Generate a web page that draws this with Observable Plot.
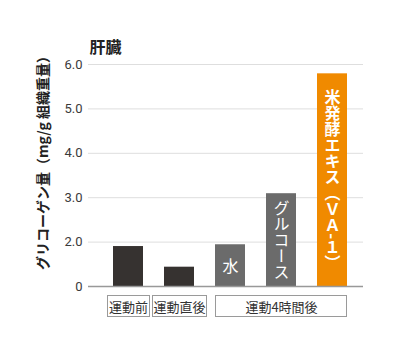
<!DOCTYPE html>
<html><head><meta charset="utf-8">
<script src="https://cdn.jsdelivr.net/npm/d3@7"></script>
<script src="https://cdn.jsdelivr.net/npm/@observablehq/plot@0.6"></script>
<style>
html,body{margin:0;padding:0;background:#fff;}
#chart{width:400px;height:354px;}
</style></head><body><div id="chart"></div>
<script>
// ---- data ----
const categories = ["運動前", "運動直後", "水", "グルコース", "米発酵エキス（ＶＡ-１）"];
const values = [1.80, 0.87, 1.88, 3.09, 5.79];
const barColors = ["#363230", "#363230", "#6b6b6b", "#6b6b6b", "#f08a00"];
const barLabels = ["", "", "水", "グルコース", "米発酵エキス（ＶＡ-１）"];
const barLabelWeights = ["normal", "normal", "normal", "normal", "bold"];
const groupNames = ["運動前", "運動直後", "運動4時間後"];
const groupMembers = [["運動前"], ["運動直後"], ["水", "グルコース", "米発酵エキス（ＶＡ-１）"]];
const yTicks = [0, 2, 3, 4, 5, 6];
const yTickLabels = ["0", "2.0", "3.0", "4.0", "5.0", "6.0"];
const titleText = "肝臓";
const yLabelText = "グリコーゲン量（mg/g 組織重量）";

// ---- layout ----
const W = 400, H = 354, mt = 64, mb = 68, ml = 88, mr = 37;
const jp = "'Noto Sans CJK JP', sans-serif";

// broken value axis: 0–2 occupies one tick step, then one step per unit
const disp = d3.scaleLinear().domain(yTicks).range(yTicks.map((_, i) => i));
const tickSteps = yTicks.map((_, i) => i);

const bars = categories.map((c, i) => ({cat: c, value: values[i], color: barColors[i]}));
const labels = categories.map((c, i) => ({
  cat: c, text: barLabels[i], weight: barLabelWeights[i], value: values[i]
})).filter(d => d.text);
const groups = groupNames.map((g, i) => ({
  name: g, members: groupMembers[i],
  center: groupMembers[i][Math.floor(groupMembers[i].length / 2)]
}));

const chart = Plot.plot({
  width: W, height: H,
  marginTop: mt, marginBottom: mb, marginLeft: ml, marginRight: mr,
  style: {fontFamily: "Roboto, 'Noto Sans CJK JP', sans-serif", fontSize: "13px", color: "#3a3a3a", background: "#fff"},
  x: {domain: categories, paddingInner: 0.41, paddingOuter: 0, insetLeft: 23, insetRight: 14, axis: null},
  y: {domain: [0, tickSteps[tickSteps.length - 1]], ticks: tickSteps,
      tickFormat: i => yTickLabels[i], tickSize: 0, tickPadding: 6, label: null},
  marks: [
    Plot.ruleY(tickSteps.slice(1), {stroke: "#dedede", strokeWidth: 1}),
    Plot.barY(bars, {x: "cat", y: d => disp(d.value), fill: "color"}),
    Plot.ruleY([0], {stroke: "#999", strokeWidth: 1.5}),
    ...labels.map(d => Plot.text([d], {
      x: "cat", y: e => disp(e.value) / 2, text: "text", fill: "#fff", fontSize: 16,
      fontWeight: d.weight, fontFamily: jp, textAnchor: "middle", lineAnchor: "middle"
    })),
    Plot.text(groups, {x: "center", text: "name", frameAnchor: "bottom", dy: 21,
      fontSize: 13, fill: "#333", fontFamily: jp, lineAnchor: "middle"}),
    Plot.text([titleText], {frameAnchor: "top-left", dx: 1, dy: -17, textAnchor: "start",
      lineAnchor: "middle", fontSize: 16, fontWeight: "bold", fill: "#222", fontFamily: jp}),
    Plot.text([yLabelText], {frameAnchor: "left", rotate: -90, dx: -45, dy: -16,
      textAnchor: "middle", lineAnchor: "middle", fontSize: 14, fontWeight: "bold", fill: "#222", fontFamily: jp})
  ]
});
document.getElementById("chart").appendChild(chart);

// vertical writing for in-bar labels
const svg = chart.tagName.toLowerCase() === "svg" ? chart : chart.querySelector("svg");
const labelSet = new Set(barLabels.filter(Boolean));
svg.querySelectorAll("text").forEach(t => {
  if (labelSet.has(t.textContent)) {
    t.style.writingMode = "vertical-rl";
    ["y", "dy"].forEach(a => { const v = t.getAttribute(a); if (v && /em$/.test(v)) t.removeAttribute(a); });
  }
});

// boxes around the group labels
const xs = chart.scale("x");
const bw = xs.bandwidth;
const svgRect = svg.getBoundingClientRect();
groups.forEach(g => {
  const t = Array.from(svg.querySelectorAll("text")).find(e => e.textContent === g.name);
  if (!t) return;
  const r = t.getBoundingClientRect();
  const tl = r.left - svgRect.left, tr = r.right - svgRect.left;
  const cy = (r.top + r.bottom) / 2 - svgRect.top;
  const bl = d3.min(g.members, m => xs.apply(m));
  const br = d3.max(g.members, m => xs.apply(m) + bw);
  const x1 = Math.round(Math.min(tl - 1.5, bl)) + 0.5;
  const x2 = Math.round(Math.max(tr + 1.5, br)) - 0.5;
  d3.select(svg).append("rect")
    .attr("x", x1).attr("y", Math.round(cy - 11) + 0.5)
    .attr("width", x2 - x1).attr("height", 21)
    .attr("fill", "none").attr("stroke", "#9a9a9a").attr("stroke-width", 1);
});
</script>
</body></html>
